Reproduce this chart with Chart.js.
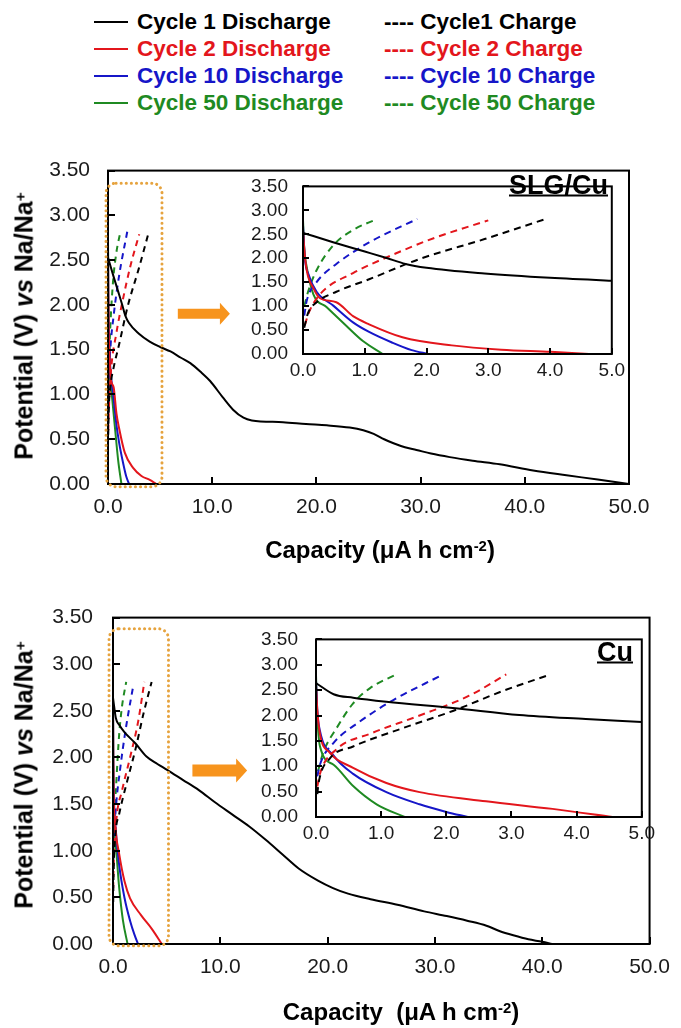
<!DOCTYPE html>
<html>
<head>
<meta charset="utf-8">
<script src="https://cdn.jsdelivr.net/npm/chart.js@4.4.0/dist/chart.umd.min.js"></script>
<style>
  body { margin: 0; background: #fff; font-family: "Liberation Sans", Arial, sans-serif; }
  #page { position: relative; width: 681px; height: 1028px; overflow: hidden; }
  canvas, .abs { position: absolute; }
  .leg { position: absolute; font-weight: bold; font-size: 22.5px; line-height: 1; white-space: nowrap; transform: translateY(-50%); }
  .swatch { position: absolute; height: 2px; transform: translateY(-50%); }
  .ytitle { font-weight: bold; font-size: 25px; line-height: 1; white-space: nowrap; transform: translate(-50%, -50%) rotate(-90deg); }
  .xtitle { font-weight: bold; font-size: 24px; line-height: 1; white-space: pre; transform: translate(-50%, -50%); }
  .sup { position: relative; top: -0.45em; font-size: 0.62em; }
  .tag { font-weight: bold; font-size: 27px; line-height: 1; text-decoration: underline; text-decoration-thickness: 2px; transform: translate(-100%, -50%); }
</style>
</head>
<body>
<div id="page">
  <div id="legend"></div>

  <canvas id="mainSlg" width="681" height="440" style="left:0;top:140px"></canvas>
  <canvas id="insetSlg" width="400" height="236" style="left:230px;top:160px"></canvas>
  <div class="abs ytitle" style="left:24px;top:326px">Potential (V) <i>vs</i> Na/Na<span class="sup">+</span></div>
  <div class="abs xtitle" style="left:380px;top:550px">Capacity (μA h cm<span class="sup">-2</span>)</div>
  <div class="abs tag" style="left:608px;top:185px">SLG/Cu</div>

  <canvas id="mainCu" width="681" height="443" style="left:0;top:585px"></canvas>
  <canvas id="insetCu" width="420" height="240" style="left:240px;top:610px"></canvas>
  <div class="abs ytitle" style="left:24px;top:775px">Potential (V) <i>vs</i> Na/Na<span class="sup">+</span></div>
  <div class="abs xtitle" style="left:401px;top:1012px">Capacity  (μA h cm<span class="sup">-2</span>)</div>
  <div class="abs tag" style="left:633px;top:652px">Cu</div>
</div>

<script>
// --- Data: [capacity (µA h cm-2), potential (V)] ---
// SLG/Cu electrode
const slgC1Dis = [[0, 2.53], [0.5, 2.33], [1.0, 2.14], [1.34, 2.01], [1.66, 1.88], [2.0, 1.8], [2.94, 1.68], [4.0, 1.59], [5.0, 1.53], [6.0, 1.48], [7.0, 1.41], [7.9, 1.35], [9.0, 1.24], [9.8, 1.15], [11.0, 0.97], [12.0, 0.83], [13.0, 0.74], [13.8, 0.71], [16.8, 0.69], [19.0, 0.67], [21.0, 0.655], [23.2, 0.63], [24.5, 0.6], [25.5, 0.56], [26.5, 0.5], [27.4, 0.455], [28.5, 0.41], [29.6, 0.38], [31.0, 0.34], [32.8, 0.3], [35.0, 0.26], [37.6, 0.22], [40.8, 0.15], [44.0, 0.097], [47.0, 0.05], [50.0, 0]];
const slgC2Dis = [[0, 2.6], [0.02, 2.2], [0.06, 1.75], [0.17, 1.37], [0.27, 1.17], [0.54, 1.08], [0.81, 0.79], [1.07, 0.62], [1.61, 0.35], [2.41, 0.18], [3.21, 0.09], [4.01, 0.045], [4.63, 0]];
const slgC10Dis = [[0, 2.7], [0.03, 2.0], [0.09, 1.66], [0.22, 1.3], [0.49, 1.01], [0.81, 0.66], [1.07, 0.46], [1.44, 0.24], [1.76, 0.08], [2.03, 0]];
const slgC50Dis = [[0, 2.8], [0.02, 2.2], [0.06, 1.82], [0.17, 1.24], [0.38, 0.98], [0.7, 0.59], [0.97, 0.27], [1.29, 0]];
const slgC1Chg = [[0.02, 0.55], [0.08, 0.85], [0.22, 1.08], [0.54, 1.3], [1.07, 1.56], [1.88, 1.98], [2.94, 2.4], [3.93, 2.82]];
const slgC2Chg = [[0.03, 0.6], [0.09, 0.85], [0.27, 1.24], [0.81, 1.69], [1.34, 2.01], [2.14, 2.43], [3.0, 2.79]];
const slgC10Chg = [[0.02, 0.8], [0.06, 1.11], [0.22, 1.5], [0.54, 1.88], [1.07, 2.33], [1.85, 2.82]];
const slgC50Chg = [[0.02, 1.0], [0.09, 1.33], [0.22, 1.75], [0.49, 2.27], [0.81, 2.59], [1.2, 2.82]];

// bare Cu electrode
const cuC1Dis = [[0, 2.64], [0.27, 2.42], [0.57, 2.35], [1.08, 2.27], [2.1, 2.15], [3.12, 2.01], [4.14, 1.93], [5.0, 1.87], [6.5, 1.76], [8.0, 1.65], [9.5, 1.52], [11.1, 1.39], [12.7, 1.26], [14.2, 1.12], [15.8, 0.96], [17.3, 0.81], [19.1, 0.68], [20.5, 0.6], [21.9, 0.54], [24.0, 0.48], [26.5, 0.42], [29.0, 0.35], [31.1, 0.3], [33.0, 0.25], [34.8, 0.196], [36.0, 0.14], [37.3, 0.093], [38.7, 0.05], [40.0, 0.024], [40.9, 0]];
const cuC2Dis = [[0, 2.6], [0.02, 2.1], [0.06, 1.64], [0.21, 1.27], [0.57, 0.97], [1.08, 0.67], [1.59, 0.49], [2.61, 0.31], [3.63, 0.16], [4.55, 0]];
const cuC10Dis = [[0, 2.7], [0.02, 2.1], [0.06, 1.7], [0.27, 1.21], [0.57, 0.85], [1.08, 0.49], [1.59, 0.25], [2.0, 0.1], [2.33, 0]];
const cuC50Dis = [[0, 2.8], [0.02, 2.0], [0.06, 1.4], [0.27, 1.03], [0.57, 0.61], [0.93, 0.25], [1.36, 0]];
const cuC1Chg = [[0.02, 0.45], [0.04, 0.67], [0.21, 1.15], [0.57, 1.39], [1.33, 1.75], [2.1, 2.09], [2.86, 2.48], [3.6, 2.81]];
const cuC2Chg = [[0.02, 0.6], [0.06, 0.85], [0.32, 1.34], [0.83, 1.64], [1.59, 2.0], [2.35, 2.39], [2.92, 2.81]];
const cuC10Chg = [[0.02, 0.8], [0.06, 1.03], [0.27, 1.46], [0.67, 1.88], [1.18, 2.3], [1.92, 2.79]];
const cuC50Chg = [[0.03, 0.9], [0.11, 1.27], [0.32, 1.76], [0.57, 2.24], [0.83, 2.54], [1.23, 2.81]];

const cycleNames = ["1", "2", "10", "50"];
const dischargeLabels = ["Cycle 1 Discharge", "Cycle 2 Discharge", "Cycle 10 Discharge", "Cycle 50 Discharge"];
const chargeLabels = ["Cycle1 Charge", "Cycle 2 Charge", "Cycle 10 Charge", "Cycle 50 Charge"];
const cycleColors = ["#000000", "#e3161c", "#1616c8", "#1f8a22"];

const mainXTicks = [0, 50, 10];
const insetXTicks = [0, 5, 1];
const yTicks = [0, 3.5, 0.5];

const slgDis = [slgC1Dis, slgC2Dis, slgC10Dis, slgC50Dis];
const slgChg = [slgC1Chg, slgC2Chg, slgC10Chg, slgC50Chg];
const cuDis = [cuC1Dis, cuC2Dis, cuC10Dis, cuC50Dis];
const cuChg = [cuC1Chg, cuC2Chg, cuC10Chg, cuC50Chg];

Chart.defaults.font.family = "'Liberation Sans', Arial, sans-serif";

// --- Legend (two columns: discharge / charge) ---
const legend = document.getElementById("legend");
const rowY = [22, 49, 76, 103];
cycleNames.forEach((c, i) => {
  const line = document.createElement("div");
  line.className = "swatch";
  line.style.cssText = `left:94px;width:34px;top:${rowY[i]}px;background:${cycleColors[i]}`;
  legend.appendChild(line);

  const dis = document.createElement("div");
  dis.className = "leg";
  dis.style.cssText = `left:137px;top:${rowY[i]}px;color:${cycleColors[i]}`;
  dis.textContent = dischargeLabels[i];
  legend.appendChild(dis);

  const chg = document.createElement("div");
  chg.className = "leg";
  chg.style.cssText = `left:384px;top:${rowY[i]}px;color:${cycleColors[i]}`;
  chg.textContent = "---- " + chargeLabels[i];
  legend.appendChild(chg);
});

// --- Plugins: boxed frame with inward ticks, zoom box + arrow ---
const framePlugin = {
  id: "frame",
  afterDatasetsDraw(chart, args, opts) {
    const { ctx, chartArea: a, scales: { x, y } } = chart;
    ctx.save();
    ctx.strokeStyle = "#000";
    ctx.lineWidth = opts.lineWidth;
    ctx.strokeRect(a.left, a.top, a.right - a.left, a.bottom - a.top);
    ctx.beginPath();
    x.ticks.forEach((t) => {
      const px = Math.round(x.getPixelForValue(t.value));
      ctx.moveTo(px, a.bottom);
      ctx.lineTo(px, a.bottom - opts.tick);
    });
    y.ticks.forEach((t) => {
      const py = Math.round(y.getPixelForValue(t.value));
      ctx.moveTo(a.left, py);
      ctx.lineTo(a.left + opts.tick, py);
    });
    ctx.stroke();
    ctx.restore();
  },
};

const zoomMarkPlugin = {
  id: "zoomMark",
  afterDraw(chart, args, opts) {
    const { ctx, scales: { x, y } } = chart;
    const [bx0, bx1, by0, by1] = opts.box;
    const l = x.getPixelForValue(bx0), r = x.getPixelForValue(bx1);
    const t = y.getPixelForValue(by1), b = y.getPixelForValue(by0);
    ctx.save();
    ctx.strokeStyle = "#e6a33e";
    ctx.lineWidth = 3;
    ctx.lineCap = "round";
    ctx.setLineDash([0.1, 5]);
    ctx.beginPath();
    ctx.roundRect(l, t, r - l, b - t, 10);
    ctx.stroke();

    const [ax0, ax1, ay] = opts.arrow;
    const x0 = x.getPixelForValue(ax0), x1 = x.getPixelForValue(ax1);
    const yc = y.getPixelForValue(ay);
    const hx = x1 - opts.headLen;
    ctx.setLineDash([]);
    ctx.fillStyle = "#f7941d";
    ctx.beginPath();
    ctx.moveTo(x0, yc - opts.shaft / 2);
    ctx.lineTo(hx, yc - opts.shaft / 2);
    ctx.lineTo(hx, yc - opts.head / 2);
    ctx.lineTo(x1, yc);
    ctx.lineTo(hx, yc + opts.head / 2);
    ctx.lineTo(hx, yc + opts.shaft / 2);
    ctx.lineTo(x0, yc + opts.shaft / 2);
    ctx.closePath();
    ctx.fill();
    ctx.restore();
  },
};

const buildDatasets = (dis, chg, dash, width) => {
  const sets = [];
  cycleNames.forEach((c, i) => {
    sets.push({
      label: dischargeLabels[i],
      data: dis[i].map(([x, y]) => ({ x, y })),
      borderColor: cycleColors[i],
      borderWidth: width,
      pointRadius: 0,
      cubicInterpolationMode: "monotone",
    });
    sets.push({
      label: chargeLabels[i],
      data: chg[i].map(([x, y]) => ({ x, y })),
      borderColor: cycleColors[i],
      borderWidth: width,
      borderDash: dash,
      pointRadius: 0,
      cubicInterpolationMode: "monotone",
    });
  });
  return sets;
};

const makeChart = (id, dis, chg, cfg) => {
  const [xMin, xMax, xStep] = cfg.xTicks;
  return new Chart(document.getElementById(id), {
    type: "line",
    data: { datasets: buildDatasets(dis, chg, cfg.dash, cfg.lineWidth) },
    options: {
      responsive: false,
      animation: false,
      devicePixelRatio: 1,
      layout: { padding: cfg.padding },
      plugins: {
        legend: { display: false },
        tooltip: { enabled: false },
        frame: { lineWidth: 2, tick: cfg.tick },
        zoomMark: cfg.mark || false,
      },
      scales: {
        x: {
          type: "linear",
          min: xMin,
          max: xMax,
          ticks: {
            stepSize: xStep,
            autoSkip: false,
            maxRotation: 0,
            callback: (v) => v.toFixed(1),
            font: { size: cfg.fontSize },
            color: "#1a1a1a",
            padding: cfg.xPad,
          },
          grid: { display: false, drawTicks: false },
          border: { display: false },
          afterFit: (s) => { s.height = cfg.xHeight; },
        },
        y: {
          type: "linear",
          min: yTicks[0],
          max: yTicks[1],
          ticks: {
            stepSize: yTicks[2],
            autoSkip: false,
            callback: (v) => v.toFixed(2),
            font: { size: cfg.fontSize },
            color: "#1a1a1a",
            padding: cfg.yPad,
          },
          grid: { display: false, drawTicks: false },
          border: { display: false },
          afterFit: (s) => { s.width = cfg.yWidth; },
        },
      },
    },
    plugins: [framePlugin, zoomMarkPlugin],
  });
};

// SLG/Cu: full range + 0-5 zoom
makeChart("mainSlg", slgDis, slgChg, {
  xTicks: mainXTicks, padding: { top: 19, right: 52, left: 0, bottom: 0 },
  yWidth: 108, xHeight: 96, fontSize: 21, xPad: 11, yPad: 18, tick: 7,
  dash: [6, 5], lineWidth: 2,
  mark: { box: [-0.19, 5.18, -0.03, 3.36], arrow: [6.7, 11.7, 1.9], shaft: 10, head: 22, headLen: 10 },
});
makeChart("insetSlg", slgDis, slgChg, {
  xTicks: insetXTicks, padding: { top: 13, right: 15, left: 0, bottom: 0 },
  yWidth: 73, xHeight: 42, fontSize: 19, xPad: 5, yPad: 15, tick: 6,
  dash: [7, 5], lineWidth: 2,
});

// Cu: full range + 0-5 zoom
makeChart("mainCu", cuDis, cuChg, {
  xTicks: mainXTicks, padding: { top: 20, right: 26, left: 0, bottom: 0 },
  yWidth: 113, xHeight: 84, fontSize: 21, xPad: 11, yPad: 20, tick: 7,
  dash: [6, 5], lineWidth: 2,
  mark: { box: [-0.37, 5.17, -0.02, 3.38], arrow: [7.4, 12.5, 1.86], shaft: 12, head: 24, headLen: 11 },
});
makeChart("insetCu", cuDis, cuChg, {
  xTicks: insetXTicks, padding: { top: 14, right: 17, left: 0, bottom: 0 },
  yWidth: 76, xHeight: 33, fontSize: 19, xPad: 5, yPad: 18, tick: 6,
  dash: [7, 5], lineWidth: 2,
});
</script>
</body>
</html>
